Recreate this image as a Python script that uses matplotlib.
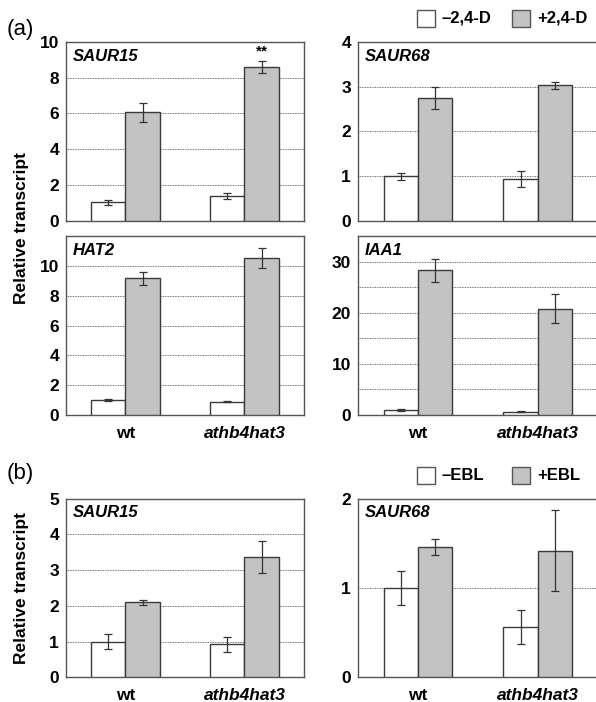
import numpy as np
import matplotlib.pyplot as plt
from matplotlib.patches import Rectangle

plt.rcParams['font.family'] = ['Liberation Sans', 'DejaVu Sans']
plt.rcParams['font.weight'] = 'bold'

groups = ['wt', 'athb4hat3']

# (a) 2,4-D treatment
saur15_a_minus = [1.03, 1.36]; saur15_a_minus_err = [0.13, 0.17]
saur15_a_plus = [6.07, 8.6]; saur15_a_plus_err = [0.52, 0.32]
saur68_a_minus = [0.99, 0.93]; saur68_a_minus_err = [0.08, 0.175]
saur68_a_plus = [2.74, 3.03]; saur68_a_plus_err = [0.25, 0.08]
hat2_minus = [0.99, 0.9]; hat2_minus_err = [0.05, 0.05]
hat2_plus = [9.17, 10.54]; hat2_plus_err = [0.43, 0.67]
iaa1_minus = [0.98, 0.66]; iaa1_minus_err = [0.12, 0.08]
iaa1_plus = [28.3, 20.75]; iaa1_plus_err = [2.3, 2.85]

# (b) EBL treatment
saur15_b_minus = [1.0, 0.92]; saur15_b_minus_err = [0.2, 0.2]
saur15_b_plus = [2.1, 3.36]; saur15_b_plus_err = [0.075, 0.45]
saur68_b_minus = [1.0, 0.56]; saur68_b_minus_err = [0.19, 0.19]
saur68_b_plus = [1.457, 1.416]; saur68_b_plus_err = [0.09, 0.455]

W, H = 596, 702
fig = plt.figure(figsize=(W/100, H/100), dpi=100)

def ax_at(l, t, r, b):
    return fig.add_axes([l/W, 1-b/H, (r-l)/W, (b-t)/H])

ax1 = ax_at(66, 42, 304, 220.7)
ax2 = ax_at(358, 42, 597.5, 220.7)
ax3 = ax_at(66, 236, 304, 415)
ax4 = ax_at(358, 236, 597.5, 415)
ax5 = ax_at(66, 498.7, 304, 677.3)
ax6 = ax_at(358, 498.7, 597.5, 677.3)

grey = '#c3c3c3'
edge = '#3a3a3a'
bw = 0.286
x = np.arange(len(groups))

def panel(ax, minus, minus_err, plus, plus_err, ymax, ticks, grid, gene, xlabels):
    ekw = dict(ecolor='#333333', elinewidth=0.9, capsize=3, capthick=0.9)
    ax.bar(x-bw/2, minus, bw, color='white', edgecolor=edge, linewidth=1.0, zorder=3)
    ax.bar(x+bw/2, plus, bw, color=grey, edgecolor=edge, linewidth=1.0, zorder=3)
    ax.errorbar(x-bw/2, minus, yerr=minus_err, fmt='none', zorder=4, **ekw)
    ax.errorbar(x+bw/2, plus, yerr=plus_err, fmt='none', zorder=4, **ekw)
    ax.set_xlim(-0.5, 1.5)
    ax.set_ylim(0, ymax)
    ax.set_yticks(ticks)
    ax.set_yticklabels([str(t) for t in ticks], fontsize=12.5, fontweight='bold')
    for g in grid:
        ax.axhline(g, color='#444444', lw=0.6, ls=(0, (1, 1)), zorder=1)
    ax.tick_params(axis='y', length=0, pad=5)
    ax.tick_params(axis='x', length=0, pad=8)
    if xlabels:
        ax.set_xticks(x)
        ax.set_xticklabels(groups, fontsize=12.5, fontweight='bold')
        ax.get_xticklabels()[1].set_style('italic')
    else:
        ax.set_xticks([])
    for s in ax.spines.values():
        s.set_color('#555555')
        s.set_linewidth(1.0)
    ax.text(0.03, 0.92, gene, transform=ax.transAxes, fontsize=12,
            fontweight='bold', style='italic', va='center', ha='left')

panel(ax1, saur15_a_minus, saur15_a_minus_err, saur15_a_plus, saur15_a_plus_err,
      10, [0, 2, 4, 6, 8, 10], [2, 4, 6, 8], 'SAUR15', False)
ax1.text(1+bw/2, 9.45, '**', ha='center', va='center', fontsize=11, fontweight='bold')
panel(ax2, saur68_a_minus, saur68_a_minus_err, saur68_a_plus, saur68_a_plus_err,
      4, [0, 1, 2, 3, 4], [1, 2, 3], 'SAUR68', False)
panel(ax3, hat2_minus, hat2_minus_err, hat2_plus, hat2_plus_err,
      12, [0, 2, 4, 6, 8, 10], [2, 4, 6, 8, 10], 'HAT2', True)
panel(ax4, iaa1_minus, iaa1_minus_err, iaa1_plus, iaa1_plus_err,
      35, [0, 10, 20, 30], [5, 10, 15, 20, 25, 30], 'IAA1', True)
panel(ax5, saur15_b_minus, saur15_b_minus_err, saur15_b_plus, saur15_b_plus_err,
      5, [0, 1, 2, 3, 4, 5], [1, 2, 3, 4], 'SAUR15', True)
panel(ax6, saur68_b_minus, saur68_b_minus_err, saur68_b_plus, saur68_b_plus_err,
      2, [0, 1, 2], [1], 'SAUR68', True)

# panel labels and y labels
fig.text(7/W, 1-29/H, '(a)', fontsize=16, fontweight='normal', va='center')
fig.text(7/W, 1-474/H, '(b)', fontsize=16, fontweight='normal', va='center')
fig.text(22/W, 1-228/H, 'Relative transcript', rotation=90, fontsize=12.5,
         fontweight='bold', va='center', ha='center')
fig.text(22/W, 1-588/H, 'Relative transcript', rotation=90, fontsize=12.5,
         fontweight='bold', va='center', ha='center')

# legends
def legend(yc, lab1, lab2):
    for x0, fc, lab in [(417, 'white', lab1), (512, grey, lab2)]:
        r = Rectangle((x0/W, 1-(yc+8.5)/H), 17.5/W, 17/H, transform=fig.transFigure,
                      facecolor=fc, edgecolor='#555555', lw=1.0)
        fig.patches.append(r)
        fig.text((x0+25)/W, 1-yc/H, lab, fontsize=12, fontweight='bold', va='center')

legend(18, '\u20132,4-D', '+2,4-D')
legend(475.5, '\u2013EBL', '+EBL')

fig.savefig('out.png', dpi=100)
